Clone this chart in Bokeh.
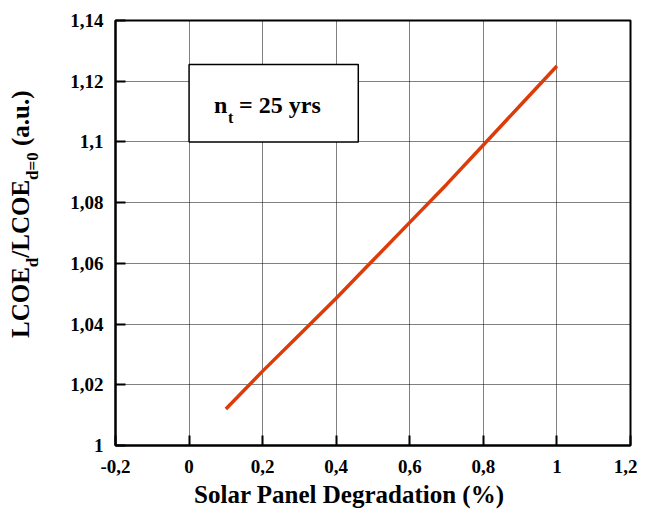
from bokeh.plotting import figure
from bokeh.models import Label, BoxAnnotation, FixedTicker, Range1d, Div
from bokeh.layouts import row, column
from bokeh.embed import file_html
from bokeh.resources import INLINE

# ---- data ----
degradation = [0.1, 0.2, 0.3, 0.4, 0.5, 0.6, 0.7, 0.8, 0.9, 1.0]
lcoe_ratio = [1.012, 1.0245, 1.0365, 1.0485, 1.061, 1.0735, 1.086, 1.099, 1.112, 1.125]

x_ticks = [-0.2, 0, 0.2, 0.4, 0.6, 0.8, 1.0, 1.2]
x_tick_labels = ["-0,2", "0", "0,2", "0,4", "0,6", "0,8", "1", "1,2"]
y_ticks = [1.0, 1.02, 1.04, 1.06, 1.08, 1.1, 1.12, 1.14]
y_tick_labels = ["1", "1,02", "1,04", "1,06", "1,08", "1,1", "1,12", "1,14"]

x_title = "Solar Panel Degradation (%)"
box_text_main = "n"
box_text_sub = "t"
box_text_rest = "= 25 yrs"

FONT = "Liberation Serif"
LINE_COLOR = "#dc3c0a"

X0, X1 = -0.2, 1.2
Y0, Y1 = 1.0, 1.14
DIV_W = 50

p = figure(frame_width=515, frame_height=425, output_backend="svg", toolbar_location=None,
           x_range=Range1d(X0, X1), y_range=Range1d(Y0, Y1),
           min_border_left=55, min_border_right=7, min_border_top=20, min_border_bottom=40)
p.background_fill_color = "white"
p.border_fill_color = "white"
p.outline_line_color = "black"
p.outline_line_width = 2

for ax, ticks, labels in ((p.xaxis[0], x_ticks, x_tick_labels), (p.yaxis[0], y_ticks, y_tick_labels)):
    ax.ticker = FixedTicker(ticks=ticks)
    ax.major_label_overrides = {t: l for t, l in zip(ticks, labels)}
    ax.major_label_text_font = FONT
    ax.major_label_text_font_style = "bold"
    ax.major_label_text_font_size = "19px"
    ax.major_label_text_color = "black"
    ax.axis_line_color = "black"
    ax.axis_line_width = 2
    ax.major_tick_in = 10
    ax.major_tick_out = 0
    ax.major_tick_line_width = 2
    ax.major_tick_line_color = "black"
    ax.minor_tick_line_color = None

p.xaxis.major_label_standoff = 14
p.yaxis.major_label_standoff = 12

p.xgrid.ticker = FixedTicker(ticks=x_ticks)
p.ygrid.ticker = FixedTicker(ticks=y_ticks)
for g in (p.xgrid, p.ygrid):
    g.grid_line_color = "black"
    g.grid_line_dash = "1 1"
    g.grid_line_width = 1
    g.grid_line_alpha = 1.0

p.line(degradation, lcoe_ratio, line_color=LINE_COLOR, line_width=3.5)

# annotation box
p.add_layout(BoxAnnotation(left=0.0, right=0.46, bottom=1.1, top=1.1255,
                           fill_color="white", fill_alpha=1.0,
                           line_color="black", line_width=1.5, line_alpha=1.0, level="underlay"))
common = dict(text_font=FONT, text_font_style="bold", text_baseline="alphabetic",
              text_align="left", text_color="black")
p.add_layout(Label(x=0.0, y=1.1, text=box_text_main, text_font_size="24px",
                   x_offset=25, y_offset=37, **common))
p.add_layout(Label(x=0.0, y=1.1, text=box_text_sub, text_font_size="16px",
                   x_offset=39, y_offset=24, **common))
p.add_layout(Label(x=0.0, y=1.1, text=box_text_rest, text_font_size="24px",
                   x_offset=50, y_offset=37, **common))

# y-axis title with subscripts, as rotated HTML text
sub = 'style="font-size:17px;vertical-align:-9px"'
ytitle_html = (
    '<div style="transform-origin:0 0; transform:translate(3px,333px) rotate(-90deg); '
    "white-space:nowrap; width:max-content; font-family:'Liberation Serif'; font-weight:bold; "
    'font-size:25px; line-height:25px; color:black;">'
    f'LCOE<span {sub}>d</span>/LCOE<span {sub}>d=0</span> (a.u.)</div>'
)
ydiv = Div(text=ytitle_html, width=DIV_W, height=485, styles={"overflow": "visible"})

# x-axis title as HTML text (centred where the original places it)
xtitle_html = (
    '<div style="position:relative; left:344px; transform:translate(-50%,-18px); '
    "white-space:nowrap; width:max-content; font-family:'Liberation Serif'; font-weight:bold; "
    f'font-size:25px; line-height:25px; color:black;">{x_title}</div>'
)
xdiv = Div(text=xtitle_html, width=630, height=17, styles={"overflow": "visible"})

layout = column(row(ydiv, p, spacing=0), xdiv, spacing=0)
open("out.html", "w").write(file_html(layout, INLINE))
